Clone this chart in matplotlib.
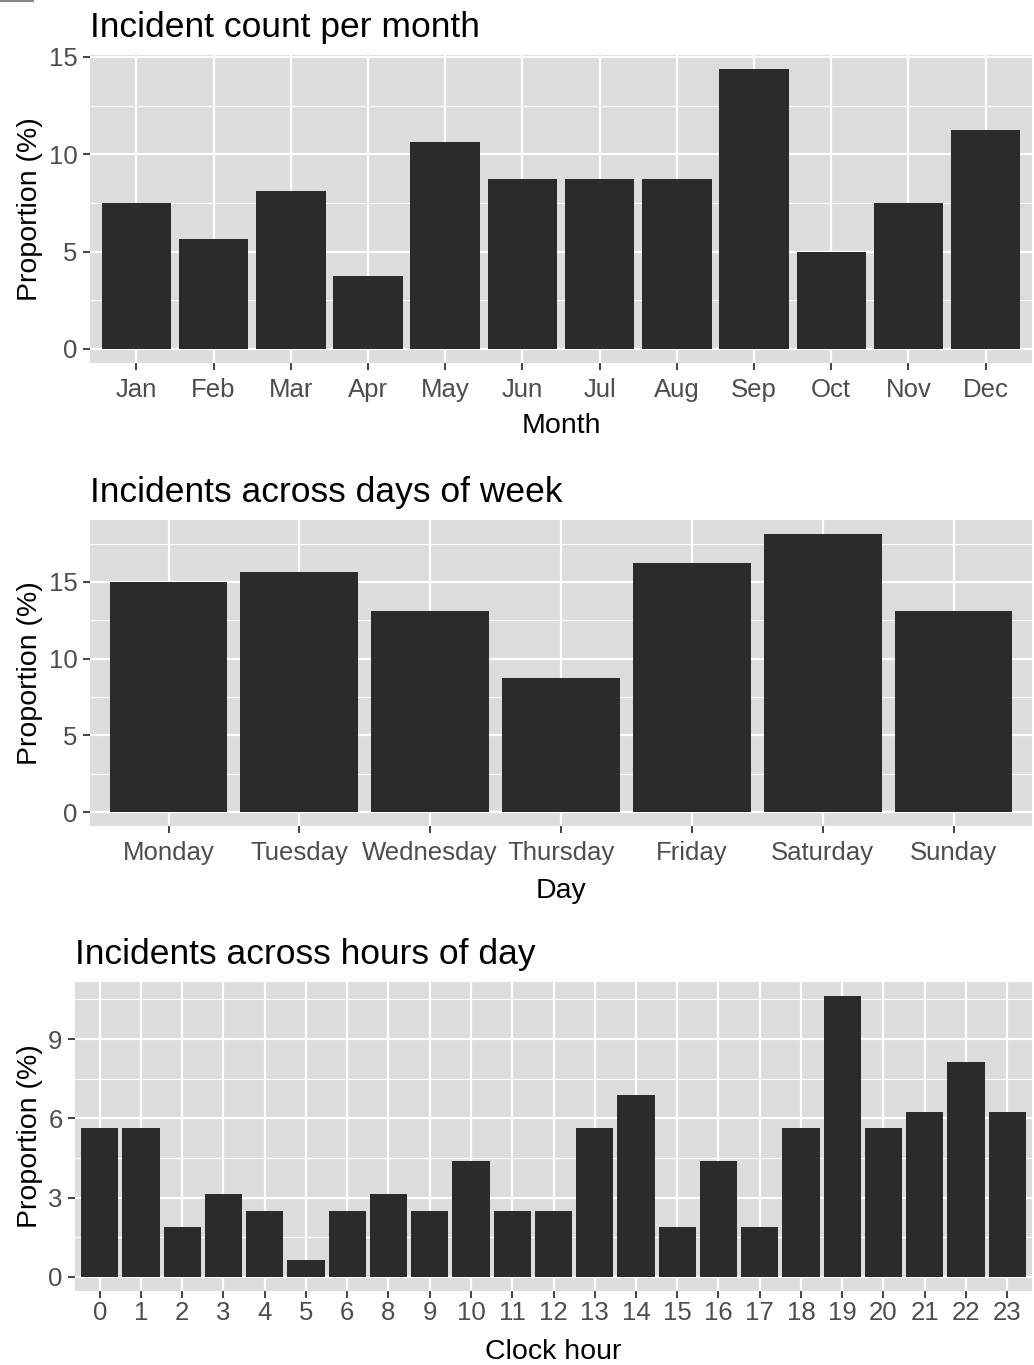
import matplotlib
matplotlib.use("Agg")
import matplotlib.pyplot as plt
from matplotlib.lines import Line2D
from matplotlib.ticker import MultipleLocator

plt.rcParams['font.family'] = ['Liberation Sans', 'DejaVu Sans']

months = ["Jan", "Feb", "Mar", "Apr", "May", "Jun", "Jul", "Aug", "Sep", "Oct", "Nov", "Dec"]
month_pct = [7.5, 5.625, 8.125, 3.75, 10.625, 8.75, 8.75, 8.75, 14.375, 5.0, 7.5, 11.25]

days = ["Monday", "Tuesday", "Wednesday", "Thursday", "Friday", "Saturday", "Sunday"]
day_pct = [15.0, 15.625, 13.125, 8.75, 16.25, 18.125, 13.125]

hours = ["0", "1", "2", "3", "4", "5", "6", "8", "9", "10", "11", "12",
         "13", "14", "15", "16", "17", "18", "19", "20", "21", "22", "23"]
hour_pct = [5.625, 5.625, 1.875, 3.125, 2.5, 0.625, 2.5, 3.125, 2.5, 4.375, 2.5, 2.5,
            5.625, 6.875, 1.875, 4.375, 1.875, 5.625, 10.625, 5.625, 6.25, 8.125, 6.25]

W, H = 1034, 1365
fig = plt.figure(figsize=(W / 100, H / 100), dpi=100)

PANEL_BG = "#DCDCDC"
BAR = "#2B2B2B"
TICKC = "#4D4D4D"


def panel(rect_px, cats, vals, major, title, xlabel, xpad, xlabelpad):
    left, top, right, bottom = rect_px
    ax = fig.add_axes([left / W, 1 - bottom / H, (right - left) / W, (bottom - top) / H])
    ax.set_facecolor(PANEL_BG)
    x = list(range(len(cats)))
    ax.bar(x, vals, width=0.9, color=BAR, zorder=3)
    vmax = max(vals)
    ax.set_ylim(-0.05 * vmax, vmax * 1.05)
    ax.set_xlim(-0.6, len(cats) - 1 + 0.6)
    ax.yaxis.set_major_locator(MultipleLocator(major))
    ax.yaxis.set_minor_locator(MultipleLocator(major / 2))
    ax.set_xticks(x)
    ax.set_xticklabels(cats)
    ax.grid(which="major", color="white", linewidth=1.6, zorder=1)
    ax.grid(which="minor", axis="y", color="white", linewidth=0.8, zorder=1)
    for s in ax.spines.values():
        s.set_visible(False)
    ax.tick_params(which="major", length=5, width=1.3, color="#333333",
                   labelcolor=TICKC, labelsize=18.5, pad=4)
    ax.tick_params(axis="x", which="major", pad=xpad)
    ax.tick_params(which="minor", length=0)
    ax.set_ylabel("Proportion (%)", fontsize=20.5, color="black", labelpad=4)
    ax.set_xlabel(xlabel, fontsize=20.5, color="black", labelpad=xlabelpad)
    ax.set_title(title, loc="left", fontsize=25.5, color="black", pad=13)
    return ax


panel((90, 55, 1032, 363), months, month_pct, 5, "Incident count per month", "Month", 6, 8)
panel((90, 520, 1032, 826), days, day_pct, 5, "Incidents across days of week", "Day", 6, 9)
panel((75, 982, 1032, 1291), hours, hour_pct, 3, "Incidents across hours of day", "Clock hour", 2.5, 10)

fig.add_artist(Line2D([0, 33 / W], [1 - 1 / H, 1 - 1 / H], color="#888888", linewidth=1.5,
                      transform=fig.transFigure))

fig.savefig("out.png", dpi=100)
